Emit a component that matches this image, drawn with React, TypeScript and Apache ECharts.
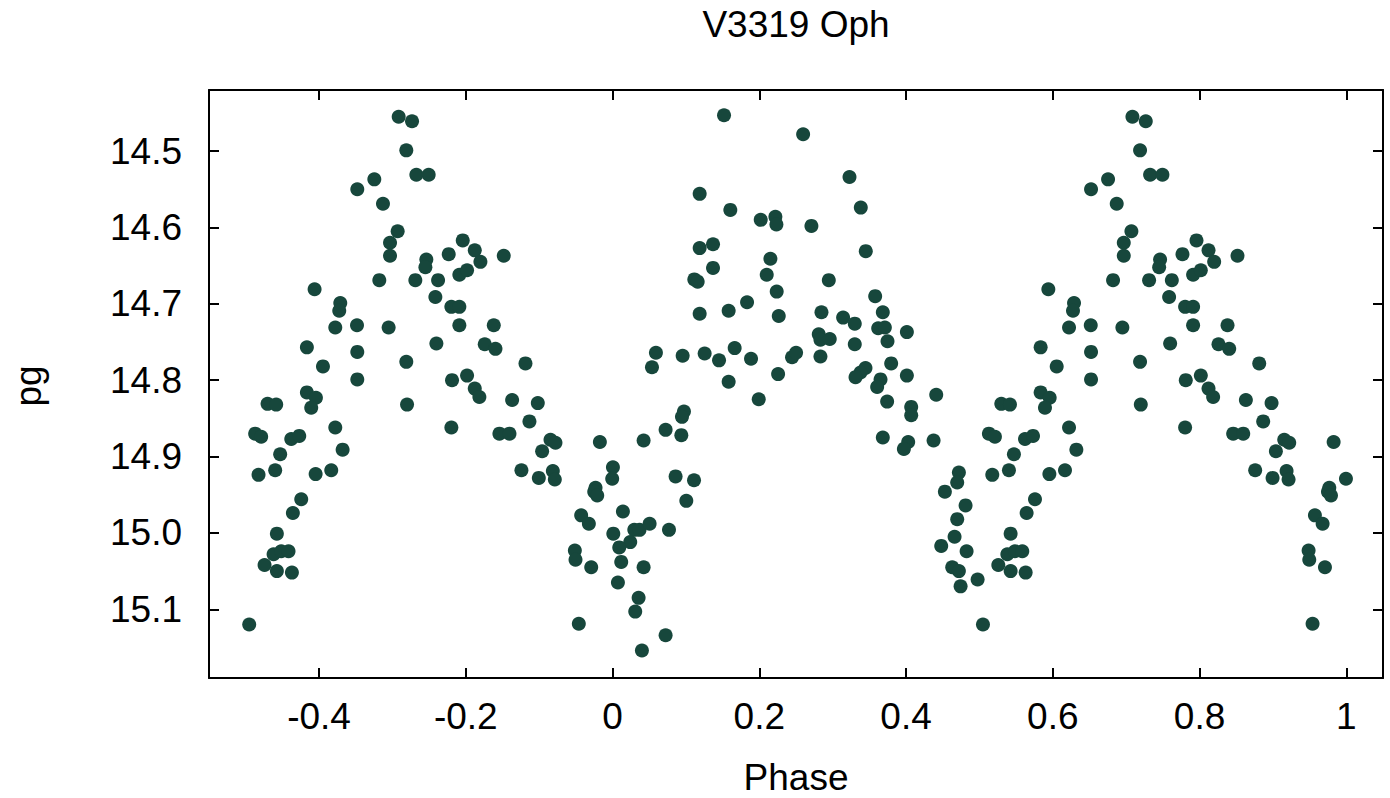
import React, { useEffect, useRef } from "react";
import * as echarts from "echarts";

const TITLE = "V3319 Oph";
const X_NAME = "Phase";
const Y_NAME = "pg";
const X_TICKS = [-0.4, -0.2, 0, 0.2, 0.4, 0.6, 0.8, 1];
const Y_TICKS = [14.5, 14.6, 14.7, 14.8, 14.9, 15.0, 15.1];
const X_MIN = -0.55;
const X_MAX = 1.05;
const Y_MIN = 14.42;
const Y_MAX = 15.19;

// phase 0.00 - 0.25
const PHASE_Q1 = [
  0.1519, 0.1187, 0.1605, 0.2019, 0.2219, 0.2233, 0.1369, 0.1187, 0.2151, 0.1369,
  0.2101, 0.1114, 0.116, 0.2237, 0.1833, 0.1187, 0.1582, 0.2265, 0.0591, 0.0537,
  0.0955, 0.1255, 0.1451, 0.1664, 0.1887, 0.1582, 0.1992, 0.2256, 0.0973, 0.0946,
  0.0723, 0.0937, 0.0423, 0.0005, 0.0141, 0.0859, 0.111, 0.1005, 0.001, 0.0296,
  0.0368, 0.0505, 0.0769, 0.0241, 0.0091, 0.0118, 0.0423, 0.0073, 0.0355, 0.0309,
  0.0723, 0.04,
];
const MAG_Q1 = [
  14.453, 14.556, 14.577, 14.59, 14.586, 14.596, 14.622, 14.627, 14.641, 14.653,
  14.662, 14.668, 14.671, 14.684, 14.698, 14.713, 14.709, 14.716, 14.764, 14.783,
  14.768, 14.765, 14.774, 14.758, 14.772, 14.802, 14.825, 14.792, 14.841, 14.848,
  14.865, 14.872, 14.879, 14.914, 14.972, 14.926, 14.931, 14.958, 15.001, 14.996,
  14.996, 14.988, 14.996, 15.012, 15.019, 15.038, 15.045, 15.065, 15.085, 15.103,
  15.134, 15.154,
];

// phase 0.25 - 0.50
const PHASE_Q2 = [
  0.2446, 0.2501, 0.2597, 0.3229, 0.3383, 0.271, 0.3451, 0.2947, 0.3579, 0.3683,
  0.2847, 0.3142, 0.3301, 0.362, 0.3711, 0.4011, 0.281, 0.2833, 0.296, 0.3301,
  0.3747, 0.2833, 0.3447, 0.3379, 0.3311, 0.3797, 0.4011, 0.3652, 0.3606, 0.4411,
  0.3742, 0.407, 0.407, 0.3683, 0.4029, 0.397, 0.4375, 0.472, 0.4697, 0.4529,
  0.4811, 0.4697, 0.4661, 0.4479, 0.4825, 0.4629, 0.472, 0.4743, 0.4975,
];
const MAG_Q2 = [
  14.77, 14.764, 14.478, 14.534, 14.574, 14.598, 14.631, 14.669, 14.69, 14.711,
  14.711, 14.718, 14.726, 14.732, 14.731, 14.737, 14.74, 14.747, 14.746, 14.753,
  14.749, 14.769, 14.784, 14.79, 14.796, 14.778, 14.794, 14.799, 14.809, 14.819,
  14.828, 14.835, 14.846, 14.875, 14.881, 14.89, 14.879, 14.921, 14.934, 14.946,
  14.964, 14.982, 15.005, 15.017, 15.024, 15.045, 15.05, 15.07, 15.061,
];

// phase 0.50 - 0.76
const PHASE_Q3 = [
  0.5048, 0.7085, 0.7267, 0.7189, 0.7326, 0.7494, 0.6753, 0.6521, 0.6871, 0.7071,
  0.6967, 0.6967, 0.7462, 0.7449, 0.6821, 0.7312, 0.7622, 0.5939, 0.7585, 0.6289,
  0.6275, 0.6221, 0.6517, 0.6948, 0.5834, 0.6521, 0.7599, 0.6053, 0.7189, 0.6521,
  0.5834, 0.5957, 0.5893, 0.5298, 0.5416, 0.7199, 0.6221, 0.5129, 0.5211, 0.5621,
  0.573, 0.547, 0.6321, 0.5175, 0.5402, 0.5953, 0.6166, 0.5757, 0.5643, 0.5425,
  0.538, 0.5484, 0.5584, 0.5257, 0.5425, 0.563,
];
const MAG_Q3 = [
  15.12, 14.455, 14.461, 14.499, 14.531, 14.531, 14.537, 14.55, 14.569, 14.605,
  14.62, 14.637, 14.642, 14.652, 14.669, 14.669, 14.669, 14.681, 14.691, 14.699,
  14.709, 14.731, 14.728, 14.731, 14.757, 14.763, 14.752, 14.782, 14.776, 14.799,
  14.816, 14.823, 14.836, 14.831, 14.832, 14.832, 14.862, 14.87, 14.874, 14.877,
  14.873, 14.897, 14.891, 14.924, 14.918, 14.923, 14.918, 14.956, 14.974, 15.001,
  15.028, 15.024, 15.024, 15.042, 15.05, 15.052,
];

// phase 0.76 - 1.00
const PHASE_Q4 = [
  0.7958, 0.7767, 0.8122, 0.8199, 0.8517, 0.7912, 0.8017, 0.7803, 0.7912, 0.7912,
  0.8381, 0.8258, 0.8404, 0.8813, 0.7812, 0.8017, 0.8122, 0.8185, 0.8631, 0.8981,
  0.7803, 0.8458, 0.8595, 0.8867, 0.9154, 0.9222, 0.904, 0.9827, 0.8758, 0.8995,
  0.9186, 0.9213, 0.9995, 0.9768, 0.975, 0.9791, 0.9572, 0.9677, 0.9486, 0.9495,
  0.9709, 0.954,
];
const MAG_Q4 = [
  14.617, 14.635, 14.63, 14.645, 14.637, 14.662, 14.656, 14.704, 14.704, 14.728,
  14.728, 14.753, 14.759, 14.778, 14.8, 14.794, 14.811, 14.822, 14.826, 14.83,
  14.862, 14.87, 14.87, 14.854, 14.878, 14.882, 14.893, 14.881, 14.918, 14.928,
  14.919, 14.93, 14.929, 14.941, 14.946, 14.951, 14.977, 14.988, 15.023, 15.035,
  15.045, 15.119,
];

const FONT = "'Liberation Sans', Arial, Helvetica, sans-serif";
const DOT = "#17473c";

export default function App() {
  const ref = useRef<HTMLDivElement>(null);
  useEffect(() => {
    if (!ref.current) return;
    const chart = echarts.init(ref.current, null, { renderer: "svg" });
    const points: number[][] = [];
    const segs: [number[], number[]][] = [
      [PHASE_Q1, MAG_Q1],
      [PHASE_Q2, MAG_Q2],
      [PHASE_Q3, MAG_Q3],
      [PHASE_Q4, MAG_Q4],
    ];
    segs.forEach(([ph, mg]) => {
      ph.forEach((p, i) => {
        points.push([p, mg[i]]);
        // phase-folded plot repeats second half of the cycle before phase 0
        if (p >= 0.5) points.push([p - 1, mg[i]]);
      });
    });

    const lineStyle = { color: "#000", width: 2 };
    const tickCommon = (vals: number[]) => ({
      show: true,
      inside: true,
      length: 10,
      customValues: vals,
      lineStyle,
    });
    const xFmt = (v: number) => String(Number(v.toFixed(1)));
    const yFmt = (v: number) => v.toFixed(1);

    chart.setOption({
      animation: false,
      backgroundColor: "#fff",
      grid: { left: 209, top: 90, right: 7, bottom: 120, containLabel: false },
      xAxis: [
        {
          type: "value",
          min: X_MIN,
          max: X_MAX,
          position: "bottom",
          axisLine: { show: true, onZero: false, lineStyle },
          axisTick: tickCommon(X_TICKS),
          axisLabel: {
            customValues: X_TICKS,
            formatter: xFmt,
            margin: 20,
            fontSize: 37,
            fontFamily: FONT,
            color: "#000",
          },
          splitLine: { show: false },
        },
        {
          type: "value",
          min: X_MIN,
          max: X_MAX,
          position: "top",
          axisLine: { show: true, onZero: false, lineStyle },
          axisTick: tickCommon(X_TICKS),
          axisLabel: { show: false },
          splitLine: { show: false },
        },
      ],
      yAxis: [
        {
          type: "value",
          inverse: true,
          min: Y_MIN,
          max: Y_MAX,
          position: "left",
          axisLine: { show: true, onZero: false, lineStyle },
          axisTick: tickCommon(Y_TICKS),
          axisLabel: {
            customValues: Y_TICKS,
            formatter: yFmt,
            margin: 27,
            fontSize: 37,
            fontFamily: FONT,
            color: "#000",
          },
          splitLine: { show: false },
        },
        {
          type: "value",
          inverse: true,
          min: Y_MIN,
          max: Y_MAX,
          position: "right",
          axisLine: { show: true, onZero: false, lineStyle },
          axisTick: tickCommon(Y_TICKS),
          axisLabel: { show: false },
          splitLine: { show: false },
        },
      ],
      graphic: [
        {
          type: "text",
          x: 796,
          y: 24,
          style: {
            text: TITLE,
            fontSize: 37,
            fontFamily: FONT,
            fill: "#000",
            align: "center",
            verticalAlign: "middle",
          },
        },
        {
          type: "text",
          x: 796,
          y: 777,
          style: {
            text: X_NAME,
            fontSize: 37,
            lineHeight: 30,
            fontFamily: FONT,
            fill: "#000",
            align: "center",
            verticalAlign: "middle",
          },
        },
        {
          type: "text",
          x: 28,
          y: 386,
          rotation: Math.PI / 2,
          style: {
            text: Y_NAME,
            fontSize: 37,
            fontFamily: FONT,
            fill: "#000",
            align: "center",
            verticalAlign: "middle",
          },
        },
      ],
      series: [
        {
          type: "scatter",
          xAxisIndex: 0,
          yAxisIndex: 0,
          symbol: "circle",
          symbolSize: 14,
          itemStyle: { color: DOT, opacity: 1 },
          emphasis: { disabled: true },
          data: points,
        },
      ],
    });
    return () => chart.dispose();
  }, []);
  return (
    <div
      ref={ref}
      style={{ position: "fixed", left: 0, top: 0, width: 1390, height: 798, background: "#fff" }}
    />
  );
}
